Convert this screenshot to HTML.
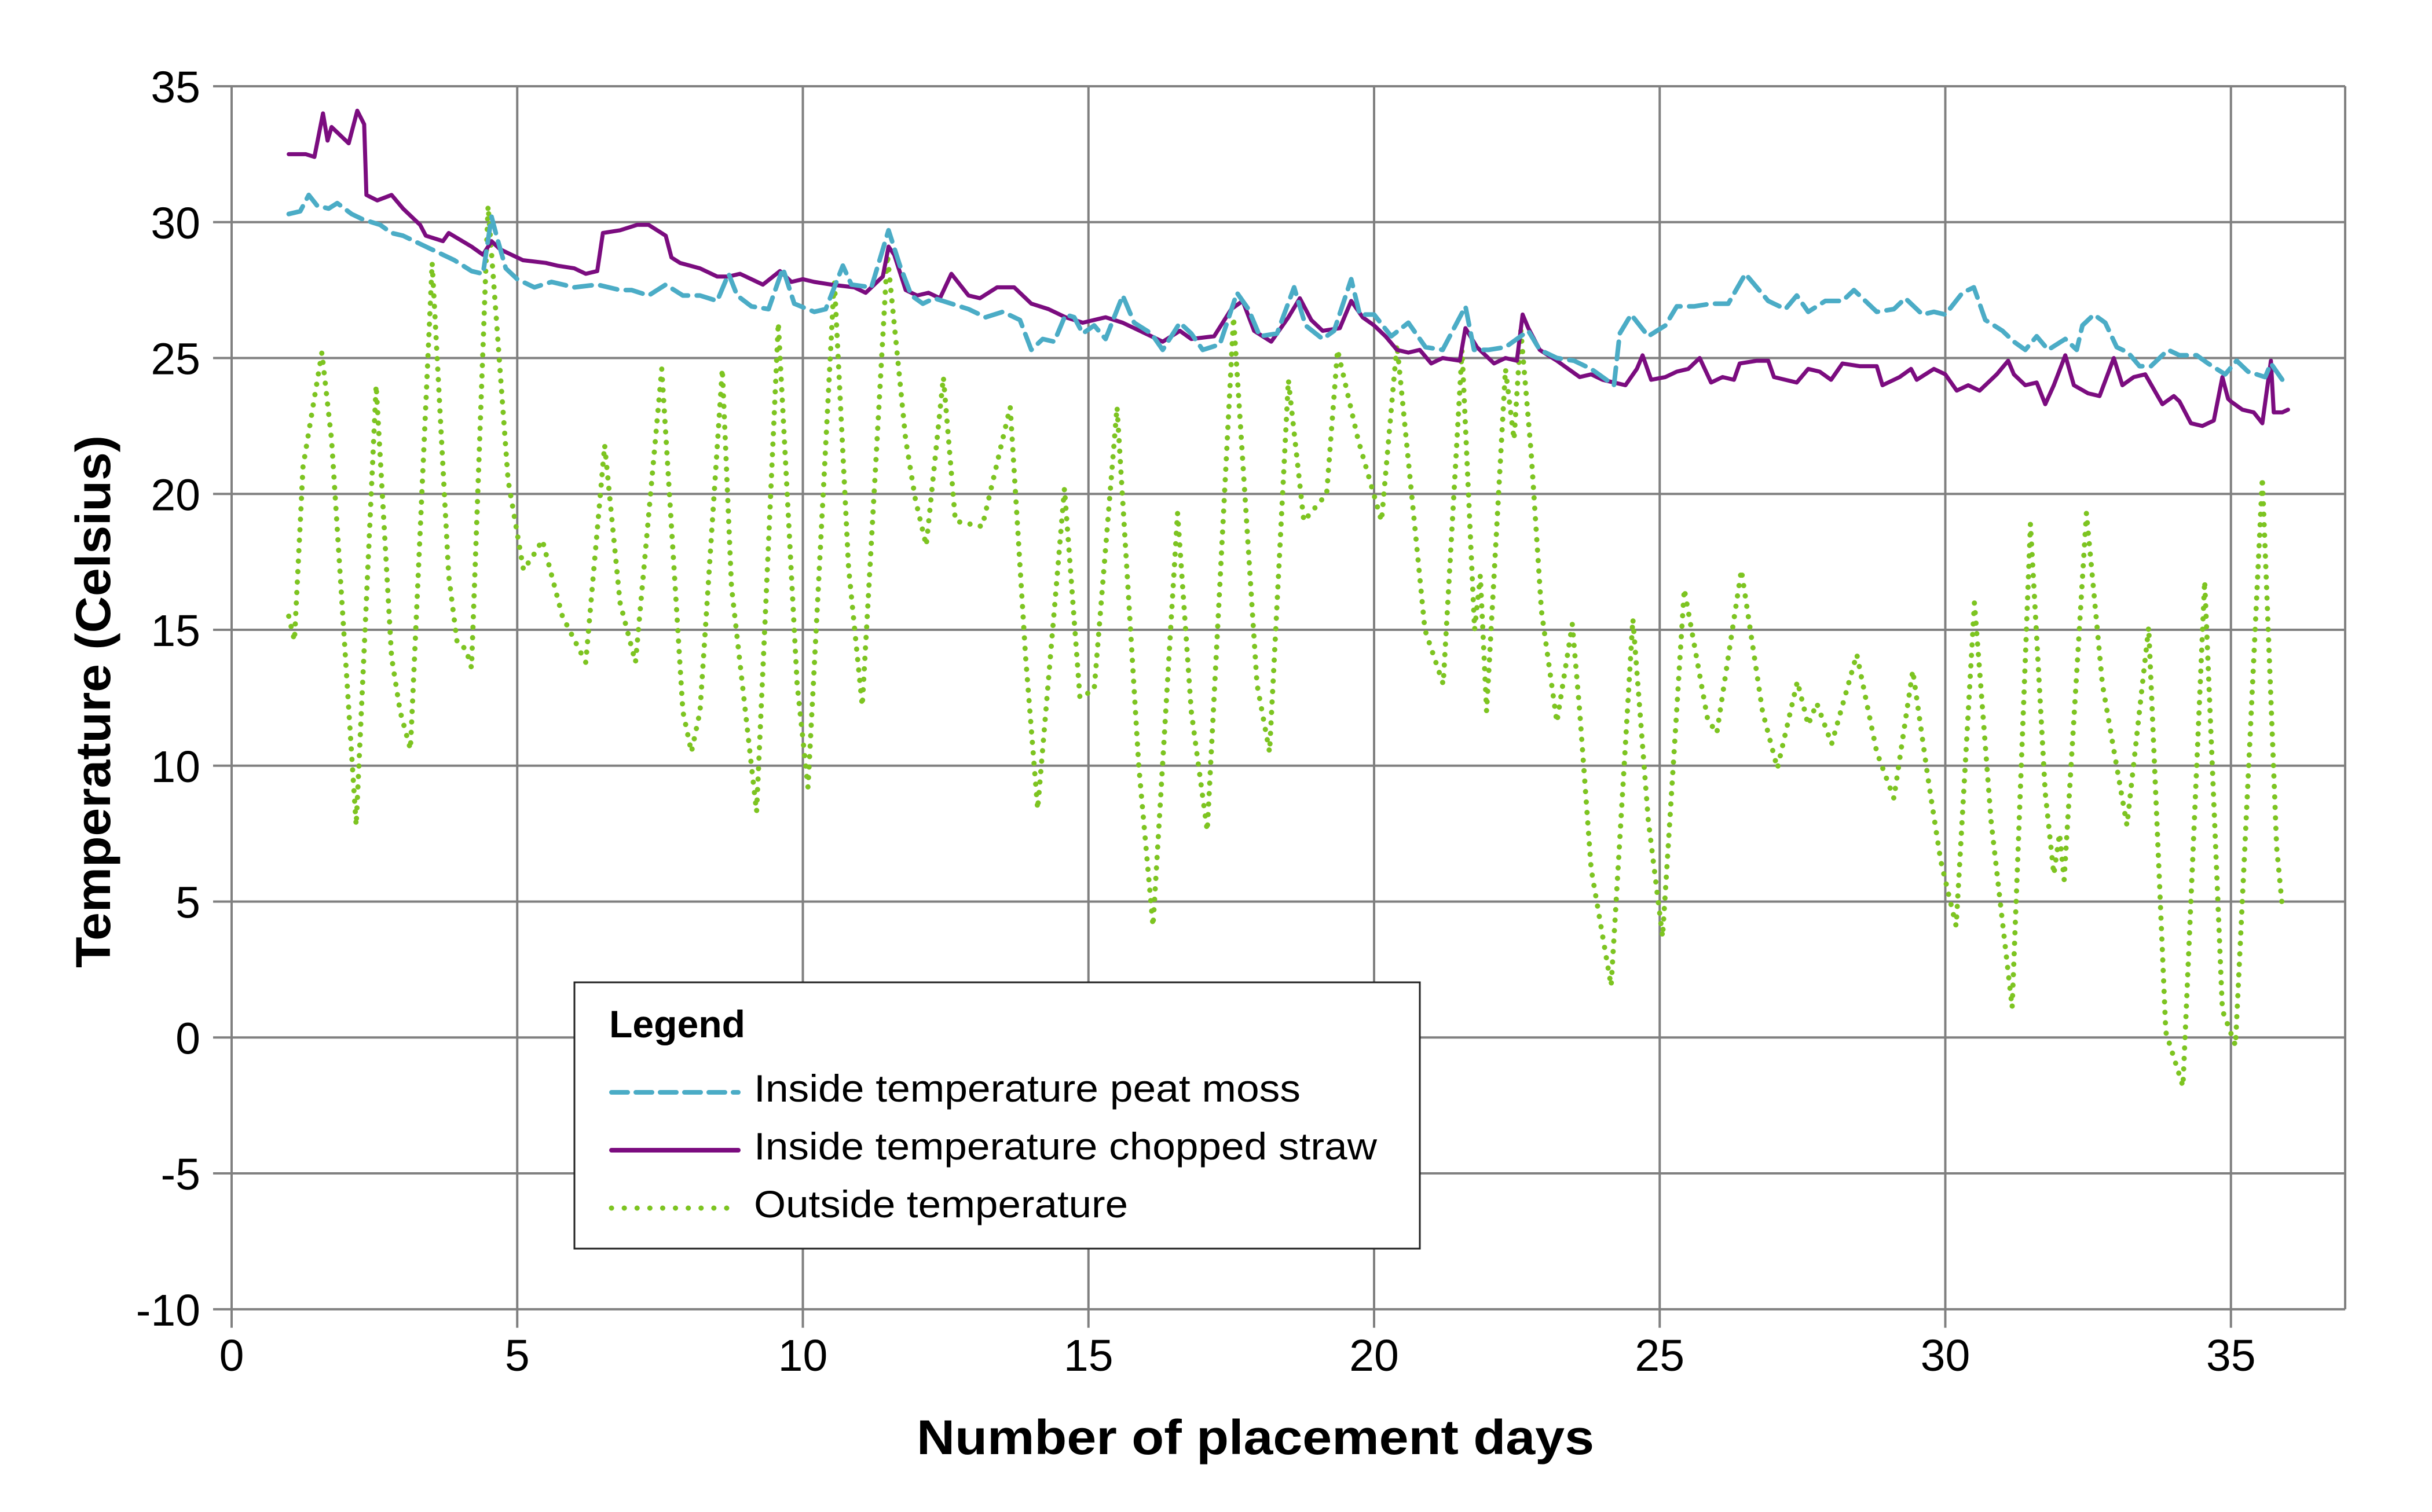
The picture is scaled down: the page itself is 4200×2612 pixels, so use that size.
<!DOCTYPE html>
<html>
<head>
<meta charset="utf-8">
<style>
html,body{margin:0;padding:0;background:#fff;}
svg{display:block;}
text{font-family:"Liberation Sans",Arial,sans-serif;fill:#000;}
</style>
</head>
<body>
<svg id="chart" width="4200" height="2612" viewBox="0 0 4200 2612" xmlns="http://www.w3.org/2000/svg">
  <rect x="0" y="0" width="4200" height="2612" fill="#fff"/>
  <g id="grid"></g>
  <g id="yticks"></g>
  <g id="xticks"></g>
  <g id="series"></g>
  <text x="2168" y="2512" font-size="84" font-weight="bold" text-anchor="middle" textLength="1170" lengthAdjust="spacingAndGlyphs">Number of placement days</text>
  <text transform="translate(190,1212) rotate(-90)" font-size="84" font-weight="bold" text-anchor="middle" textLength="920" lengthAdjust="spacingAndGlyphs">Temperature (Celsius)</text>
  <g>
    <rect x="992" y="1697" width="1460" height="460" fill="#fff" stroke="#222" stroke-width="3"/>
    <text x="1052" y="1792" font-size="66" font-weight="bold" textLength="235" lengthAdjust="spacingAndGlyphs">Legend</text>
    <line x1="1056" y1="1887" x2="1275" y2="1887" stroke="#4BACC6" stroke-width="8" stroke-dasharray="28 14" stroke-linecap="round"/>
    <text x="1302" y="1903" font-size="66" textLength="944" lengthAdjust="spacingAndGlyphs">Inside temperature peat moss</text>
    <line x1="1056" y1="1987" x2="1275" y2="1987" stroke="#7B0C7F" stroke-width="8" stroke-linecap="round"/>
    <text x="1302" y="2003" font-size="66" textLength="1076" lengthAdjust="spacingAndGlyphs">Inside temperature chopped straw</text>
    <line x1="1056" y1="2087" x2="1275" y2="2087" stroke="#7DC421" stroke-width="9" stroke-dasharray="0.1 22" stroke-linecap="round"/>
    <text x="1302" y="2103" font-size="66" textLength="646" lengthAdjust="spacingAndGlyphs">Outside temperature</text>
  </g>
</svg>
<script>
const xTicks = [0,5,10,15,20,25,30,35];
const yTicks = [35,30,25,20,15,10,5,0,-5,-10];
const xTickLabels = ["0","5","10","15","20","25","30","35"];
const yTickLabels = ["35","30","25","20","15","10","5","0","-5","-10"];

const peatDays = [1.0,1.2,1.35,1.5,1.7,1.85,2.1,2.3,2.6,2.8,3.0,3.3,3.5,3.7,3.9,4.2,4.4,4.55,4.65,4.8,5.0,5.3,5.6,6.0,6.4,6.8,7.0,7.3,7.6,7.9,8.2,8.5,8.7,8.85,9.1,9.4,9.65,9.85,10.2,10.4,10.7,10.85,11.2,11.5,11.7,11.9,12.1,12.3,12.6,12.9,13.2,13.5,13.8,14.0,14.2,14.4,14.6,14.75,14.9,15.1,15.3,15.6,15.8,16.1,16.3,16.6,16.8,17.0,17.3,17.6,17.8,18.0,18.3,18.6,18.8,19.1,19.3,19.6,19.75,20.0,20.3,20.6,20.9,21.2,21.6,21.75,22.0,22.3,22.7,22.9,23.2,23.5,23.8,24.0,24.2,24.3,24.5,24.8,25.1,25.3,25.6,25.9,26.2,26.5,26.7,26.9,27.2,27.4,27.6,27.9,28.2,28.4,28.6,28.8,29.1,29.3,29.6,29.8,30.0,30.3,30.5,30.7,31.0,31.2,31.4,31.6,31.8,32.1,32.3,32.4,32.6,32.8,33.0,33.2,33.4,33.6,33.9,34.1,34.4,34.6,34.9,35.1,35.3,35.6,35.7,35.9,36.0];
const peatTemps = [30.3,30.4,31.0,30.6,30.5,30.7,30.3,30.1,29.9,29.6,29.5,29.2,29.0,28.8,28.6,28.2,28.1,30.2,29.4,28.3,27.9,27.6,27.8,27.6,27.7,27.5,27.5,27.3,27.7,27.3,27.3,27.1,28.1,27.3,26.9,26.8,28.3,27.0,26.7,26.8,28.4,27.7,27.6,29.7,28.4,27.3,27.0,27.2,27.0,26.8,26.5,26.7,26.4,25.3,25.7,25.6,26.6,26.5,25.9,26.2,25.7,27.3,26.3,25.9,25.3,26.3,25.9,25.3,25.5,27.4,26.8,25.8,25.9,27.6,26.2,25.7,26.0,27.9,26.6,26.6,25.8,26.3,25.4,25.3,26.9,25.3,25.3,25.4,26.0,25.3,25.0,24.9,24.6,24.3,24.0,25.9,26.6,25.8,26.2,26.9,26.9,27.0,27.0,28.1,27.6,27.1,26.8,27.3,26.7,27.1,27.1,27.5,27.1,26.7,26.8,27.2,26.6,26.7,26.6,27.4,27.6,26.4,26.0,25.6,25.3,25.8,25.3,25.7,25.3,26.2,26.6,26.3,25.4,25.2,24.7,24.7,25.3,25.1,25.1,24.8,24.4,24.9,24.5,24.3,24.8,24.2,24.3];

const strawDays = [1.0,1.3,1.45,1.6,1.68,1.75,1.85,2.05,2.2,2.32,2.36,2.55,2.8,3.0,3.2,3.3,3.4,3.7,3.8,4.2,4.4,4.55,4.7,4.9,5.1,5.5,5.7,6.0,6.2,6.4,6.5,6.8,7.1,7.3,7.6,7.7,7.85,8.2,8.5,8.7,8.9,9.1,9.3,9.6,9.8,10.0,10.2,10.5,10.9,11.1,11.4,11.5,11.6,11.8,12.0,12.2,12.4,12.6,12.9,13.1,13.4,13.7,14.0,14.3,14.6,14.9,15.3,15.6,16.0,16.3,16.6,16.8,17.2,17.5,17.7,17.9,18.2,18.5,18.7,18.9,19.1,19.4,19.6,19.8,20.0,20.2,20.4,20.6,20.8,21.0,21.2,21.5,21.6,21.8,22.1,22.3,22.5,22.6,22.7,22.9,23.2,23.4,23.6,23.8,24.0,24.2,24.4,24.6,24.7,24.85,25.1,25.3,25.5,25.7,25.9,26.1,26.3,26.4,26.7,26.9,27.0,27.2,27.4,27.6,27.8,28.0,28.2,28.5,28.8,28.9,29.2,29.4,29.5,29.8,30.0,30.2,30.4,30.6,30.9,31.1,31.2,31.4,31.6,31.75,31.9,32.1,32.25,32.5,32.7,32.95,33.1,33.3,33.5,33.8,34.0,34.1,34.3,34.5,34.7,34.85,34.95,35.0,35.2,35.4,35.55,35.7,35.75,35.9,36.0];
const strawTemps = [32.5,32.5,32.4,34.0,33.0,33.5,33.3,32.9,34.1,33.6,31.0,30.8,31.0,30.5,30.1,29.9,29.5,29.3,29.6,29.1,28.8,29.3,29.0,28.8,28.6,28.5,28.4,28.3,28.1,28.2,29.6,29.7,29.9,29.9,29.5,28.7,28.5,28.3,28.0,28.0,28.1,27.9,27.7,28.2,27.8,27.9,27.8,27.7,27.6,27.4,28.0,29.1,28.8,27.5,27.3,27.4,27.2,28.1,27.3,27.2,27.6,27.6,27.0,26.8,26.5,26.3,26.5,26.3,25.9,25.6,26.0,25.7,25.8,26.8,27.1,26.0,25.6,26.5,27.2,26.4,26.0,26.1,27.1,26.5,26.2,25.8,25.3,25.2,25.3,24.8,25.0,24.9,26.1,25.4,24.8,25.0,24.9,26.6,26.1,25.3,24.9,24.6,24.3,24.4,24.2,24.1,24.0,24.6,25.1,24.2,24.3,24.5,24.6,25.0,24.1,24.3,24.2,24.8,24.9,24.9,24.3,24.2,24.1,24.6,24.5,24.2,24.8,24.7,24.7,24.0,24.3,24.6,24.2,24.6,24.4,23.8,24.0,23.8,24.4,24.9,24.4,24.0,24.1,23.3,24.0,25.1,24.0,23.7,23.6,25.0,24.0,24.3,24.4,23.3,23.6,23.4,22.6,22.5,22.7,24.3,23.5,23.4,23.1,23.0,22.6,24.9,23.0,23.0,23.1];

const outsideDays = [1.0,1.1,1.25,1.58,1.75,2.18,2.53,2.8,2.95,3.13,3.51,3.8,3.95,4.1,4.2,4.49,4.84,5.11,5.3,5.44,5.79,6.2,6.53,6.8,7.07,7.53,7.9,8.05,8.2,8.59,8.75,9.19,9.57,9.9,10.09,10.55,10.8,11.04,11.48,11.8,11.97,12.16,12.46,12.67,13.14,13.63,13.9,14.11,14.58,14.85,15.1,15.5,15.88,16.13,16.56,16.8,17.08,17.54,17.95,18.17,18.5,18.77,19.17,19.36,19.72,20.13,20.4,20.89,21.21,21.54,21.76,21.86,21.97,22.3,22.45,22.57,22.75,22.93,23.2,23.47,23.6,23.8,24.15,24.53,24.8,25.05,25.43,25.84,26.0,26.43,26.8,27.06,27.41,27.6,27.75,28.01,28.45,28.8,29.1,29.43,29.7,29.92,30.19,30.51,30.8,31.17,31.49,31.75,31.9,32.0,32.08,32.47,32.75,33.18,33.56,33.86,34.16,34.54,34.85,35.08,35.55,35.8,35.9];
const outsideTemps = [15.5,14.6,21,25.2,22,7.8,24,14,12,10.6,28.5,17,14.5,14.3,13.6,30.6,20.5,17.2,17.8,18.3,15.5,13.8,21.8,16,13.8,24.6,12,10.5,12,24.6,16.6,8.3,26.3,13,9.2,27.9,17.3,12.2,28.8,22,19.8,18.1,24.3,19,18.8,23.2,14,8.4,20.2,12.5,12.8,23.2,10,4.1,19.3,12,7.6,26.5,13,10.5,24.2,19,20,25.3,22,19,25.5,15,13,25.3,15,17,12,24.6,22,26,21.5,15.7,11.6,15.2,12,6.2,1.9,15.4,8,3.7,16.5,11.7,11.2,17.2,12,9.9,13.1,11.5,12.3,10.8,14.1,10.5,8.8,13.5,9.5,6.5,4.1,16,8,1.1,18.9,9,6,7.5,5.8,19.3,13,7.8,15.1,0.2,-1.8,16.8,1,-0.3,20.6,7,4.8];

const X0 = 400, XPER = 98.65, XMAX = 37;
const Y35 = 149, YPER = 46.95;
function xs(d){ return X0 + d * XPER; }
function ys(v){ return Y35 + (35 - v) * YPER; }
const NS = "http://www.w3.org/2000/svg";
function mk(tag, attrs){ const e = document.createElementNS(NS, tag); for (const k in attrs) e.setAttribute(k, attrs[k]); return e; }

const gridG = document.getElementById('grid');
const plotRight = xs(XMAX), plotTop = ys(35), plotBottom = ys(-10);
yTicks.forEach(function(v, i){
  const l = mk('line', {x1: X0 - 32, y1: ys(v), x2: plotRight, y2: ys(v), stroke: '#808080', 'stroke-width': 4});
  
  
  gridG.appendChild(l);
});
xTicks.forEach(function(d, i){
  const l = mk('line', {x1: xs(d), y1: plotTop, x2: xs(d), y2: plotBottom + 32, stroke: '#808080', 'stroke-width': 4});
  
  
  gridG.appendChild(l);
});
const rb = mk('line', {x1: plotRight, y1: plotTop, x2: plotRight, y2: plotBottom, stroke: '#808080', 'stroke-width': 4});


gridG.appendChild(rb);

const yg = document.getElementById('yticks');
yTicks.forEach(function(v, i){
  const t = mk('text', {x: 346, y: ys(v) + 28, 'font-size': 77, 'text-anchor': 'end'});
  t.textContent = yTickLabels[i];
  
  
  yg.appendChild(t);
});
const xg = document.getElementById('xticks');
xTicks.forEach(function(d, i){
  const t = mk('text', {x: xs(d), y: 2368, 'font-size': 77, 'text-anchor': 'middle'});
  t.textContent = xTickLabels[i];
  
  
  xg.appendChild(t);
});

function pathFor(days, vals){
  return days.map(function(d, i){ return (i ? 'L' : 'M') + xs(d).toFixed(1) + ' ' + ys(vals[i]).toFixed(1); }).join(' ');
}
const sg = document.getElementById('series');
const pOut = mk('path', {d: pathFor(outsideDays, outsideTemps), fill: 'none', stroke: '#7DC421', 'stroke-width': 9, 'stroke-dasharray': '0.1 18', 'stroke-linecap': 'round', 'stroke-linejoin': 'round'});


sg.appendChild(pOut);
const pStraw = mk('path', {d: pathFor(strawDays, strawTemps), fill: 'none', stroke: '#7B0C7F', 'stroke-width': 7, 'stroke-linejoin': 'round', 'stroke-linecap': 'round'});


sg.appendChild(pStraw);
const pPeat = mk('path', {d: pathFor(peatDays, peatTemps), fill: 'none', stroke: '#4BACC6', 'stroke-width': 8, 'stroke-dasharray': '30 15', 'stroke-linecap': 'round', 'stroke-linejoin': 'round'});


sg.appendChild(pPeat);
</script>
</body>
</html>
